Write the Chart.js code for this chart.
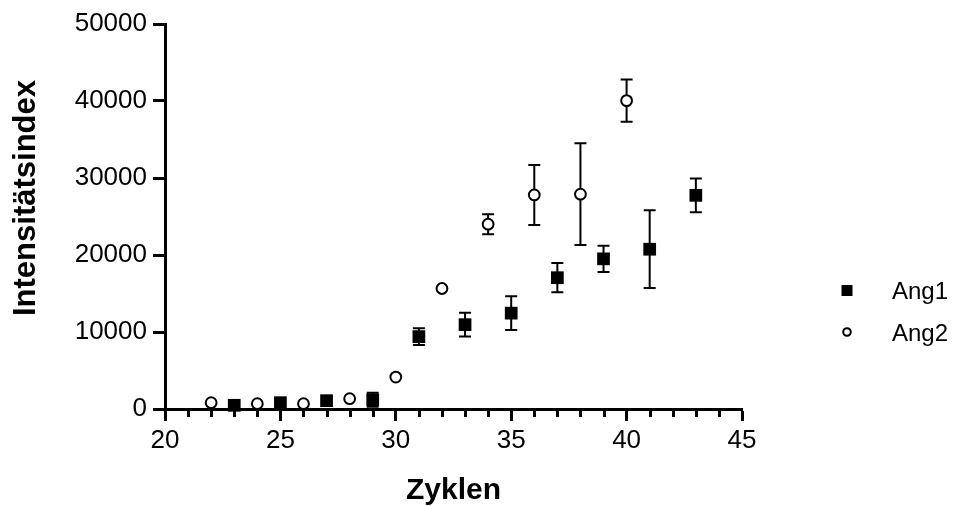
<!DOCTYPE html>
<html>
<head>
<meta charset="utf-8">
<script src="https://cdn.jsdelivr.net/npm/chart.js@4/dist/chart.umd.min.js"></script>
<style>
  html, body { margin: 0; padding: 0; background: #fff; }
  #wrap { position: relative; width: 958px; height: 506px; }
</style>
</head>
<body>
<div id="wrap"><canvas id="grafico" width="958" height="506"></canvas></div>
<script>
// Daten
const ang1X = [23, 25, 27, 29, 31, 33, 35, 37, 39, 41, 43];
const ang1Y = [480, 820, 1080, 1200, 9400, 10950, 12450, 17050, 19500, 20750, 27750];
const ang1Err = [0, 0, 0, 900, 1100, 1550, 2200, 1900, 1700, 5050, 2200];

const ang2X = [22, 24, 26, 28, 30, 32, 34, 36, 38, 40];
const ang2Y = [820, 690, 690, 1340, 4150, 15650, 24000, 27800, 27900, 40050];
const ang2Err = [0, 0, 0, 0, 0, 0, 1300, 3900, 6600, 2750];

const yTicks = [0, 10000, 20000, 30000, 40000, 50000];
const xMajor = [20, 25, 30, 35, 40, 45];

const serien = [
    { name: 'Ang1', x: ang1X, y: ang1Y, err: ang1Err },
    { name: 'Ang2', x: ang2X, y: ang2Y, err: ang2Err }
];

Chart.defaults.font.family = '"Liberation Sans", Arial, sans-serif';
Chart.defaults.color = '#000';

// Fehlerbalken hinter den Punkten
const fehlerbalken = {
    id: 'fehlerbalken',
    beforeDatasetsDraw(chart) {
        const ctx = chart.ctx;
        const xs = chart.scales.x, ys = chart.scales.y;
        ctx.save();
        ctx.strokeStyle = '#000';
        ctx.lineWidth = 2;
        serien.forEach(s => {
            s.x.forEach((xv, i) => {
                const e = s.err[i];
                if (!e) return;
                const px = xs.getPixelForValue(xv);
                const top = ys.getPixelForValue(s.y[i] + e);
                const bot = ys.getPixelForValue(s.y[i] - e);
                ctx.beginPath();
                ctx.moveTo(px, top); ctx.lineTo(px, bot);
                ctx.moveTo(px - 6, top); ctx.lineTo(px + 6, top);
                ctx.moveTo(px - 6, bot); ctx.lineTo(px + 6, bot);
                ctx.stroke();
            });
        });
        ctx.restore();
    }
};

// kleine Zwischenstriche, Achsentitel, Legende
const extras = {
    id: 'extras',
    afterDraw(chart) {
        const ctx = chart.ctx;
        const xs = chart.scales.x;
        const area = chart.chartArea;
        ctx.save();
        ctx.strokeStyle = '#000';
        ctx.lineWidth = 3;
        for (let v = 21; v < 45; v++) {
            if (xMajor.includes(v)) continue;
            const px = Math.round(xs.getPixelForValue(v)) + 0.5;
            ctx.beginPath();
            ctx.moveTo(px, area.bottom);
            ctx.lineTo(px, area.bottom + 8);
            ctx.stroke();
        }

        ctx.fillStyle = '#000';
        ctx.font = 'bold 30px "Liberation Sans", Arial, sans-serif';
        ctx.textAlign = 'center';
        ctx.textBaseline = 'alphabetic';
        ctx.fillText('Zyklen', (area.left + area.right) / 2, 499);

        ctx.save();
        ctx.translate(35, 198);
        ctx.rotate(-Math.PI / 2);
        ctx.font = 'bold 31px "Liberation Sans", Arial, sans-serif';
        ctx.fillText('Intensitätsindex', 0, 0);
        ctx.restore();

        // Legende
        ctx.font = '24px "Liberation Sans", Arial, sans-serif';
        ctx.textAlign = 'left';
        ctx.fillRect(841.5, 285, 11, 11);
        ctx.fillText(serien[0].name, 892, 299);
        ctx.beginPath();
        ctx.arc(847, 332, 3.8, 0, Math.PI * 2);
        ctx.fillStyle = '#fff';
        ctx.fill();
        ctx.lineWidth = 2;
        ctx.stroke();
        ctx.fillStyle = '#000';
        ctx.fillText(serien[1].name, 892, 341);
        ctx.restore();
    }
};

new Chart(document.getElementById('grafico'), {
    type: 'scatter',
    data: {
        datasets: [
            {
                label: 'Ang1',
                data: ang1X.map((x, i) => ({ x: x, y: ang1Y[i] })),
                pointStyle: 'rect',
                pointRadius: 9,
                borderWidth: 0,
                backgroundColor: '#000',
                borderColor: '#000',
                clip: false
            },
            {
                label: 'Ang2',
                data: ang2X.map((x, i) => ({ x: x, y: ang2Y[i] })),
                pointStyle: 'circle',
                pointRadius: 5.4,
                borderWidth: 2,
                backgroundColor: '#fff',
                borderColor: '#000',
                clip: false
            }
        ]
    },
    options: {
        responsive: false,
        animation: false,
        events: [],
        layout: { padding: { top: 24, right: 216, left: 0, bottom: 0 } },
        plugins: {
            legend: { display: false },
            tooltip: { enabled: false }
        },
        scales: {
            x: {
                type: 'linear',
                min: 20,
                max: 45,
                afterFit: s => { s.height = 97; },
                border: { display: true, color: '#000', width: 3 },
                grid: {
                    drawOnChartArea: false,
                    drawTicks: true,
                    tickLength: 12,
                    tickWidth: 3,
                    tickColor: c => xMajor.includes(c.tick.value) ? '#000' : 'rgba(0,0,0,0)'
                },
                ticks: {
                    stepSize: 1,
                    autoSkip: false,
                    maxRotation: 0,
                    padding: 4,
                    font: { size: 26 },
                    color: '#000',
                    callback: v => xMajor.includes(v) ? String(v) : ''
                }
            },
            y: {
                type: 'linear',
                min: 0,
                max: 50000,
                afterFit: s => { s.width = 165; },
                afterBuildTicks: s => { s.ticks = yTicks.map(v => ({ value: v })); },
                border: { display: true, color: '#000', width: 3 },
                grid: {
                    drawOnChartArea: false,
                    drawTicks: true,
                    tickLength: 12,
                    tickWidth: 3,
                    tickColor: '#000'
                },
                ticks: {
                    padding: 6,
                    font: { size: 26 },
                    color: '#000',
                    callback: v => String(v)
                }
            }
        }
    },
    plugins: [fehlerbalken, extras]
});
</script>
</body>
</html>
